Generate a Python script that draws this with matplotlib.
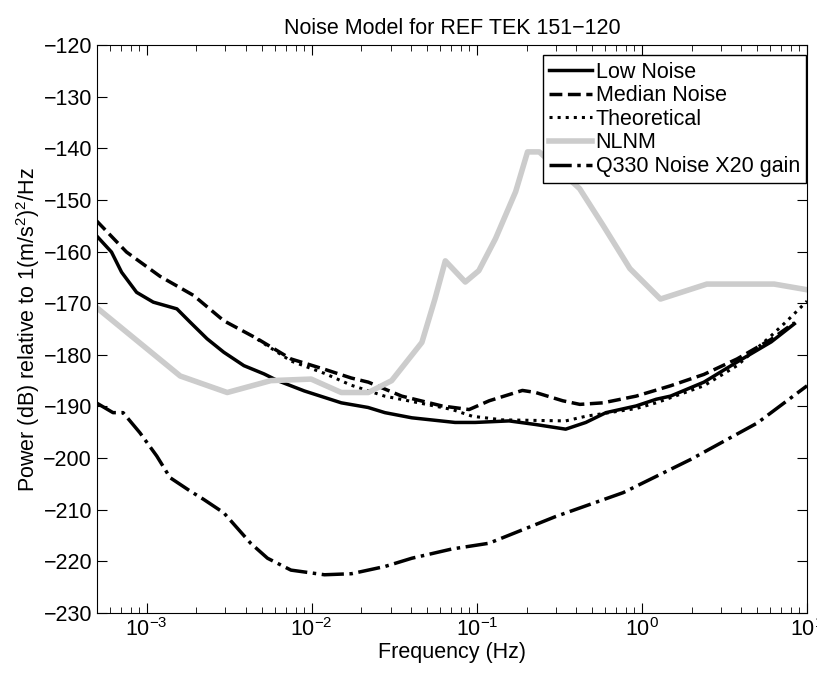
import matplotlib
matplotlib.use("Agg")
import matplotlib.pyplot as plt
import numpy as np

plt.rcParams['font.family'] = ['Liberation Sans', 'DejaVu Sans']
plt.rcParams['mathtext.default'] = 'regular'

FS = 15.5

# log10(frequency in Hz) and power in dB
low_logf = [-3.305, -3.213, -3.152, -3.061, -2.960, -2.817, -2.736, -2.634, -2.533, -2.411,
            -2.289, -2.207, -2.045, -1.821, -1.659, -1.557, -1.394, -1.132, -1.010, -0.805,
            -0.644, -0.462, -0.340, -0.218, -0.035, 0.087, 0.173, 0.375, 0.576, 0.783, 0.923]
low_db = [-156.9, -160.1, -164.0, -167.9, -169.8, -171.1, -173.7, -176.9, -179.5, -182.1,
          -183.7, -185.0, -187.0, -189.3, -190.2, -191.2, -192.2, -193.1, -193.1, -192.8,
          -193.5, -194.4, -193.1, -191.2, -189.9, -188.6, -188.0, -185.3, -181.4, -177.5, -174.0]

med_logf = [-3.305, -3.122, -2.919, -2.716, -2.533, -2.329, -2.126, -1.923, -1.760, -1.657,
            -1.455, -1.212, -1.047, -0.925, -0.724, -0.644, -0.480, -0.376, -0.236, -0.035,
            0.173, 0.375, 0.576, 0.783, 0.923]
med_db = [-154.0, -160.1, -164.8, -168.5, -173.4, -176.9, -180.8, -182.8, -184.5, -185.3,
          -188.0, -189.9, -190.6, -188.9, -186.9, -187.3, -188.9, -189.6, -189.3, -188.0,
          -186.0, -183.8, -180.8, -177.0, -173.8]

# theoretical curve: hidden under the median curve at low frequency
theo_logf = [-2.329, -2.126, -1.923, -1.760, -1.559, -1.352, -1.149, -1.028, -0.846, -0.462,
             -0.340, -0.035, 0.087, 0.375, 0.576, 0.783, 0.880, 1.0]
theo_db = [-177.0, -181.2, -183.6, -185.9, -188.0, -189.3, -190.6, -191.9, -192.6, -192.8,
           -191.9, -190.4, -189.3, -186.0, -182.1, -176.3, -173.4, -169.6]

nlnm_logf = [-3.305, -2.797, -2.512, -2.248, -2.004, -1.821, -1.657, -1.516, -1.333, -1.254,
             -1.191, -1.070, -0.988, -0.887, -0.765, -0.693, -0.622, -0.378, -0.236, -0.073,
             0.112, 0.393, 0.801, 1.0]
nlnm_db = [-170.8, -184.1, -187.3, -185.0, -184.7, -187.3, -187.3, -185.0, -177.6, -169.2,
           -161.8, -165.9, -163.7, -157.5, -148.4, -140.7, -140.7, -147.8, -154.9, -163.3,
           -169.2, -166.3, -166.3, -167.4]

q330_logf = [-3.305, -3.204, -3.143, -3.041, -2.939, -2.858, -2.736, -2.655, -2.533, -2.370,
             -2.268, -2.126, -1.923, -1.760, -1.557, -1.394, -1.150, -0.927, -0.521, -0.114,
             0.293, 0.699, 1.0]
q330_db = [-189.3, -191.2, -191.2, -195.1, -199.6, -203.8, -206.4, -208.0, -210.6, -216.5,
           -219.4, -221.7, -222.6, -222.4, -221.0, -219.4, -217.6, -216.5, -211.3, -206.7,
           -200.3, -193.2, -186.0]

fig = plt.figure(figsize=(8.17, 6.73), dpi=100)
ax = fig.add_axes([0.1187, 0.0892, 0.8691, 0.8439])

ax.plot(10 ** np.array(low_logf), low_db, color='black', lw=2.5, ls='-', label='Low Noise')
ax.plot(10 ** np.array(med_logf), med_db, color='black', lw=2.5, ls='--', label='Median Noise')
ax.plot(10 ** np.array(theo_logf), theo_db, color='black', lw=2.2, ls=':', label='Theoretical')
ax.plot(10 ** np.array(nlnm_logf), nlnm_db, color='#cccccc', lw=4, ls='-', label='NLNM')
ax.plot(10 ** np.array(q330_logf), q330_db, color='black', lw=2.5, ls='-.', label='Q330 Noise X20 gain')

ax.set_xscale('log')
ax.set_xlim(5e-4, 10)
ax.set_ylim(-230, -120)
ax.set_yticks(np.arange(-230, -119, 10))
ax.tick_params(which='both', direction='in', top=True, right=True, labelsize=FS)
ax.tick_params(which='major', length=7)
ax.tick_params(which='minor', length=4)

ax.set_title('Noise Model for REF TEK 151\u2212120', fontsize=FS, pad=8)
ax.set_xlabel('Frequency (Hz)', fontsize=FS, labelpad=1)
ax.set_ylabel('Power (dB) relative to 1(m/s$^2$)$^2$/Hz', fontsize=FS, labelpad=1)

leg = ax.legend(loc='upper right', bbox_to_anchor=(0.999, 0.982), borderaxespad=0,
                fontsize=FS, handlelength=2.0, handletextpad=0.15,
                labelspacing=0.12, fancybox=False, framealpha=1,
                edgecolor='black', borderpad=0.3)
leg.get_frame().set_linewidth(1.0)

fig.savefig('out.png', dpi=100)
